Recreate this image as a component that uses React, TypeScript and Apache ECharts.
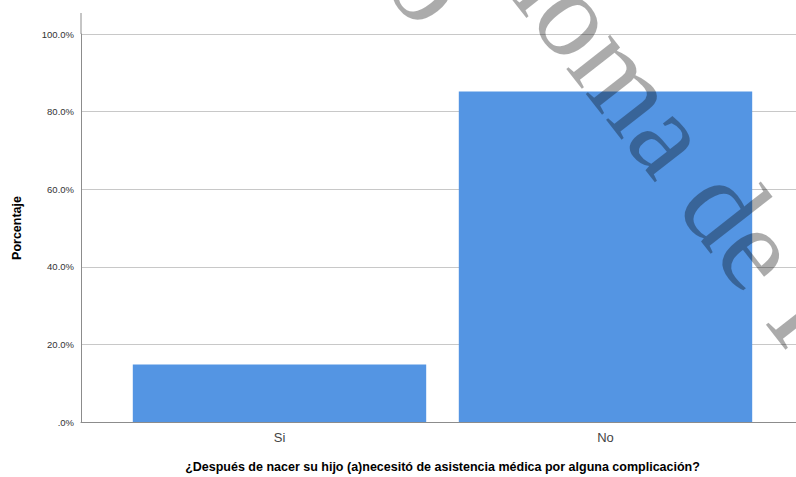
import React, { useEffect, useRef } from "react";
import * as echarts from "echarts";

const categories = ["Si", "No"];
const percentValues = [14.8, 85.2];
const yTicks = [0, 20, 40, 60, 80, 100];
const xTitle = "¿Después de nacer su hijo (a)necesitó de asistencia médica por alguna complicación?";
const yTitle = "Porcentaje";
const watermark = "Autónoma de Ica";

export default function App() {
  const ref = useRef<HTMLDivElement>(null);
  useEffect(() => {
    if (!ref.current) return;
    const chart = echarts.init(ref.current, null, { renderer: "svg" });
    const rot = (-52 * Math.PI) / 180;
    const wmStyle = {
      fontFamily: "Liberation Serif",
      fontSize: 121,
      fill: "rgba(0,0,0,0.33)",
      textAlign: "center",
      textVerticalAlign: "middle",
    };
    chart.setOption({
      animation: false,
      backgroundColor: "#ffffff",
      grid: [
        { left: 81, right: -8, top: 34, bottom: 55, outerBoundsMode: "none", containLabel: false },
        { left: 116.5, right: 27.5, top: 34, bottom: 55, outerBoundsMode: "none", containLabel: false },
      ],
      xAxis: [
        {
          type: "category",
          gridIndex: 0,
          data: [""],
          axisLine: { show: true, lineStyle: { color: "#8c8c8c", width: 1 } },
          axisTick: { show: false },
          axisLabel: { show: false },
          splitLine: { show: false },
        },
        {
          type: "category",
          gridIndex: 1,
          data: categories,
          axisLine: { show: false },
          axisTick: { show: false },
          axisLabel: {
            color: "#444444",
            fontFamily: "Liberation Sans",
            fontSize: 13,
            margin: 9,
          },
          name: xTitle,
          nameLocation: "middle",
          nameGap: 38,
          nameTextStyle: {
            color: "#000000",
            fontFamily: "Liberation Sans",
            fontWeight: "bold",
            fontSize: 12.5,
          },
        },
      ],
      yAxis: [
        {
          type: "value",
          gridIndex: 0,
          min: yTicks[0],
          max: yTicks[yTicks.length - 1],
          interval: 20,
          axisLine: { show: true, lineStyle: { color: "#8c8c8c", width: 1 } },
          axisTick: { show: false },
          axisLabel: {
            color: "#333333",
            fontFamily: "Liberation Sans",
            fontSize: 9.5,
            margin: 7,
            formatter: (v: number) => (v === 0 ? ".0%" : v.toFixed(1) + "%"),
          },
          splitLine: { show: true, lineStyle: { color: "#c8c8c8", width: 1 } },
          name: yTitle,
          nameLocation: "middle",
          nameGap: 58,
          nameRotate: 90,
          nameTextStyle: {
            color: "#000000",
            fontFamily: "Liberation Sans",
            fontWeight: "bold",
            fontSize: 12.5,
          },
        },
        {
          type: "value",
          gridIndex: 1,
          min: yTicks[0],
          max: yTicks[yTicks.length - 1],
          show: false,
          splitLine: { show: false },
        },
      ],
      series: [
        {
          type: "bar",
          xAxisIndex: 1,
          yAxisIndex: 1,
          data: percentValues,
          barCategoryGap: "10%",
          itemStyle: { color: "#5495e3" },
          z: 2,
        },
      ],
      graphic: [
        {
          type: "line",
          shape: { x1: 81, y1: 13, x2: 81, y2: 34 },
          style: { stroke: "#8c8c8c", lineWidth: 1 },
          z: 1,
        },
        {
          type: "text",
          x: 630,
          y: 84,
          rotation: rot,
          z: 100,
          style: { ...wmStyle, text: watermark },
        },
        {
          type: "text",
          x: 432,
          y: -17,
          rotation: rot,
          z: 100,
          style: { ...wmStyle, text: "o" },
        },
      ],
    });
    return () => chart.dispose();
  }, []);
  return <div ref={ref} style={{ width: 796, height: 477, position: "fixed", left: 0, top: 0 }} />;
}
